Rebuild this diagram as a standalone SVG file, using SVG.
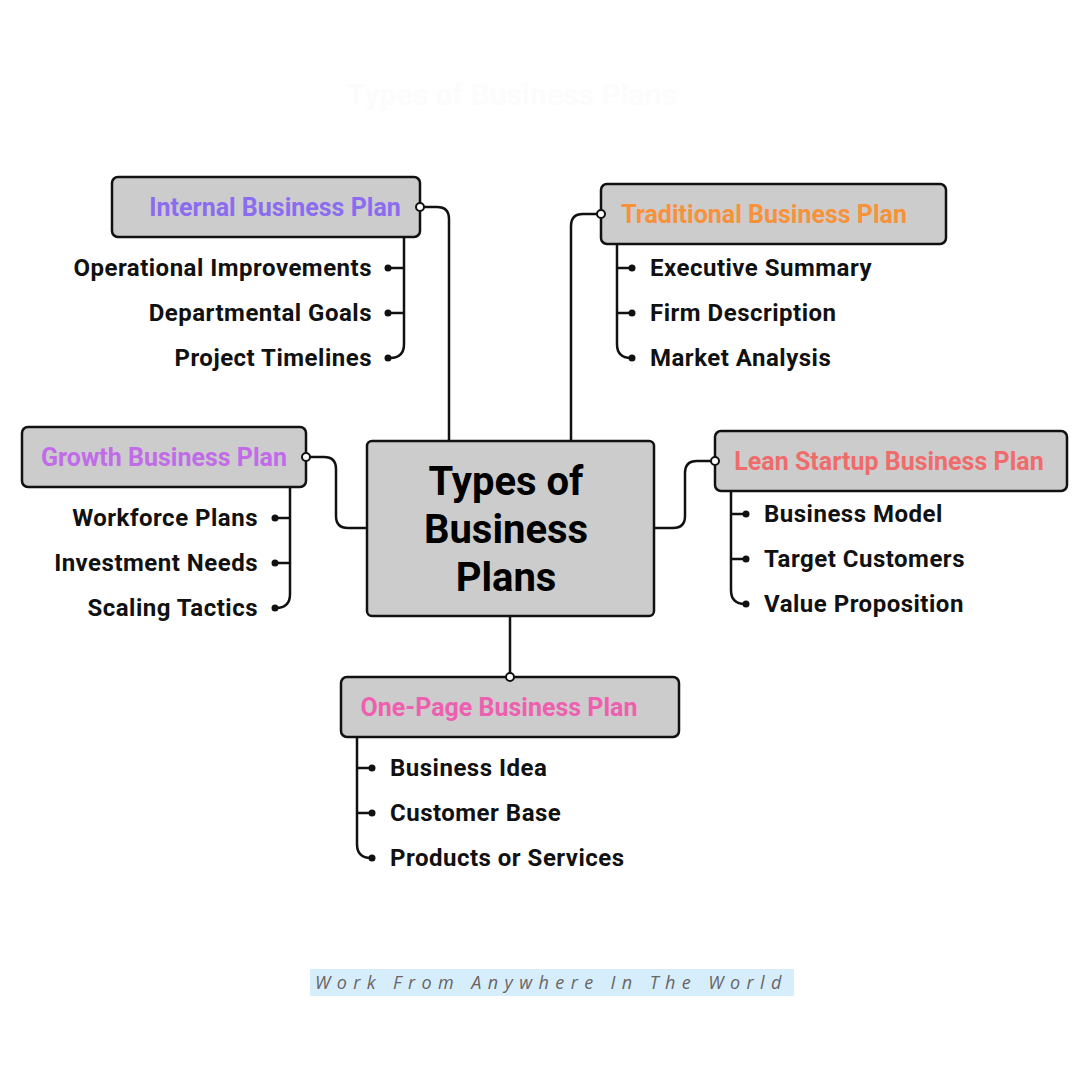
<svg xmlns="http://www.w3.org/2000/svg" width="1080" height="1080" viewBox="0 0 1080 1080">
<style>
.box{fill:#cccccc;stroke:#111;stroke-width:2.5}
.ttl{font-family:Roboto,"Liberation Sans",sans-serif;font-weight:700;font-size:25px;text-anchor:middle}
.it{font-family:Roboto,"Liberation Sans",sans-serif;font-weight:700;font-size:24px;letter-spacing:0.5px;fill:#111}
.ln{fill:none;stroke:#111;stroke-width:2.5}
.dot{fill:#111}
.port{fill:#fff;stroke:#111;stroke-width:2}
</style>
<rect width="1080" height="1080" fill="#fff"/>
<text x="512" y="105" font-family="Roboto,'Liberation Sans',sans-serif" font-size="30" font-weight="700" fill="#fcfcfc" text-anchor="middle">Types of Business Plans</text>
<g id="connectors">
<path class="ln" d="M420,207 H437 Q449,207 449,219 V441"/>
<path class="ln" d="M601,214 H583 Q571,214 571,226 V441"/>
<path class="ln" d="M306,457 H324 Q336,457 336,469 V516 Q336,528 348,528 H367"/>
<path class="ln" d="M715,461 H697 Q685,461 685,473 V516 Q685,528 673,528 H654"/>
<path class="ln" d="M510,616 V677"/>
<path class="ln" d="M404,237 V344 Q404,358 390,358 M404,268 H388 M404,313 H388"/>
<path class="ln" d="M290,487 V594 Q290,608 276,608 M290,518 H275 M290,563 H275"/>
<path class="ln" d="M617,244 V344 Q617,358 631,358 M617,268 H632 M617,313 H632"/>
<path class="ln" d="M731,491 V590 Q731,604 745,604 M731,514 H746 M731,559 H746"/>
<path class="ln" d="M357,737 V844 Q357,858 371,858 M357,768 H372 M357,813 H372"/>
<g class="dot">
<circle cx="388" cy="268" r="3.5"/><circle cx="388" cy="313" r="3.5"/><circle cx="388" cy="358" r="3.5"/>
<circle cx="275" cy="518" r="3.5"/><circle cx="275" cy="563" r="3.5"/><circle cx="275" cy="608" r="3.5"/>
<circle cx="632" cy="268" r="3.5"/><circle cx="632" cy="313" r="3.5"/><circle cx="632" cy="358" r="3.5"/>
<circle cx="746" cy="514" r="3.5"/><circle cx="746" cy="559" r="3.5"/><circle cx="746" cy="604" r="3.5"/>
<circle cx="372" cy="768" r="3.5"/><circle cx="372" cy="813" r="3.5"/><circle cx="372" cy="858" r="3.5"/>
</g>
</g>
<g id="center"><rect class="box" x="367" y="441" width="287" height="175" rx="5"/>
<g font-family="Roboto,'Liberation Sans',sans-serif" font-weight="700" font-size="40" text-anchor="middle" fill="#000">
<text x="506" y="495">Types of</text><text x="506" y="543">Business</text><text x="506" y="591">Plans</text></g></g>
<g id="internal"><rect class="box" x="112" y="177" width="308" height="60" rx="6"/>
<text class="ttl" x="275" y="216" fill="#8b6cf0">Internal Business Plan</text>
<circle class="port" cx="420" cy="207" r="4"/>
<g class="it" text-anchor="end"><text x="372" y="276">Operational Improvements</text><text x="372" y="321">Departmental Goals</text><text x="372" y="366">Project Timelines</text></g></g>
<g id="traditional"><rect class="box" x="601" y="184" width="345" height="60" rx="6"/>
<text class="ttl" x="764" y="223" fill="#f7923a">Traditional Business Plan</text>
<circle class="port" cx="601" cy="214" r="4"/>
<g class="it"><text x="650" y="276">Executive Summary</text><text x="650" y="321">Firm Description</text><text x="650" y="366">Market Analysis</text></g></g>
<g id="growth"><rect class="box" x="22" y="427" width="284" height="60" rx="6"/>
<text class="ttl" x="164" y="466" fill="#c26be8">Growth Business Plan</text>
<circle class="port" cx="306" cy="457" r="4"/>
<g class="it" text-anchor="end"><text x="258" y="526">Workforce Plans</text><text x="258" y="571">Investment Needs</text><text x="258" y="616">Scaling Tactics</text></g></g>
<g id="lean"><rect class="box" x="715" y="431" width="352" height="60" rx="6"/>
<text class="ttl" x="889" y="470" fill="#f06b6b">Lean Startup Business Plan</text>
<circle class="port" cx="715" cy="461" r="4"/>
<g class="it"><text x="764" y="522">Business Model</text><text x="764" y="567">Target Customers</text><text x="764" y="612">Value Proposition</text></g></g>
<g id="onepage"><rect class="box" x="341" y="677" width="338" height="60" rx="6"/>
<text class="ttl" x="499" y="716" fill="#ef5fb0">One-Page Business Plan</text>
<circle class="port" cx="510" cy="677" r="4"/>
<g class="it"><text x="390" y="776">Business Idea</text><text x="390" y="821">Customer Base</text><text x="390" y="866">Products or Services</text></g></g>
<g id="footer"><rect x="310" y="969" width="484" height="27" fill="#d6eefc"/>
<text x="315" y="989" font-family="'Open Sans','Liberation Sans',sans-serif" font-style="italic" font-size="18" letter-spacing="6.4" fill="#6a6464">Work From Anywhere In The World</text></g>
</svg>
